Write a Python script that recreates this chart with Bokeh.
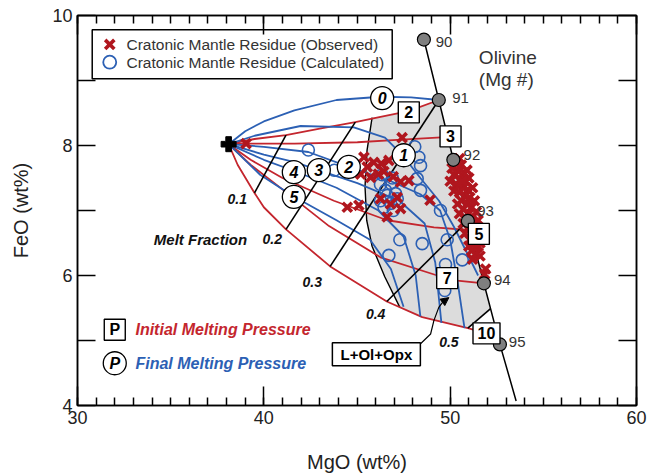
from bokeh.plotting import figure
from bokeh.models import (FixedTicker, LinearAxis, Range1d, CustomJSTickFormatter,
                          Arrow, NormalHead)
from bokeh.core.properties import value
from bokeh.embed import file_html
from bokeh.resources import INLINE

FONT = "Liberation Sans"
RED = "#c4262e"
XRED = "#b0161e"
BLUE = "#2c60b4"
GRAYFILL = "#dcdcdc"
TXT = "#222222"

# ---------------- axes ----------------
mgo_ticks = [30, 40, 50, 60]
mgo_minor = list(range(30, 61))
feo_ticks = [4, 5, 6, 7, 8, 9, 10]
feo_tick_labels = {4: "4", 5: "", 6: "6", 7: "", 8: "8", 9: "", 10: "10"}

# ---------------- starting composition ----------------
start_mgo = [38.11]
start_feo = [8.02]

# ---------------- olivine (Mg #) ----------------
olivine_mg_number = ["90", "91", "92", "93", "94", "95"]
olivine_mgo = [48.59, 49.39, 50.17, 50.95, 51.81, 52.67]
olivine_feo = [9.63, 8.70, 7.78, 6.84, 5.88, 4.94]
olivine_line_mgo = [48.59, 49.39, 50.17, 50.95, 51.81, 52.67, 53.54]
olivine_line_feo = [9.63, 8.70, 7.78, 6.84, 5.88, 4.94, 4.07]
olivine_label_mgo = [49.22, 50.11, 50.72, 51.45, 52.35, 53.15]
olivine_label_feo = [9.59, 8.73, 7.85, 7.00, 5.93, 4.97]

# ---------------- initial melting pressure (red) ----------------
p_initial = ["2", "3", "5", "7", "10"]
p_initial_mgo = [47.78, 50.02, 51.54, 49.84, 51.95]
p_initial_feo = [8.51, 8.14, 6.64, 5.96, 5.11]

red_p2_mgo = [38.11, 39.5, 41.19, 43.0, 44.91, 46.26, 47.77, 49.39]
red_p2_feo = [8.02, 8.10, 8.16, 8.26, 8.36, 8.44, 8.53, 8.70]
red_p3_mgo = [38.11, 39.05, 41.64, 45.02, 47.39, 49.76, 50.02]
red_p3_feo = [8.02, 8.03, 8.03, 8.05, 8.09, 8.13, 8.14]
red_p5_mgo = [38.11, 39.29, 41.0, 43.76, 46.62, 49.13, 51.0, 51.54]
red_p5_feo = [8.02, 7.78, 7.50, 7.15, 6.85, 6.74, 6.70, 6.64]
red_p7_mgo = [38.11, 39.3, 41.07, 43.5, 46.26, 49.31, 50.38, 51.81]
red_p7_feo = [8.02, 7.70, 7.31, 6.76, 6.28, 6.00, 5.92, 5.88]
red_p10_mgo = [38.11, 38.6, 39.5, 40.0, 41.19, 43.56, 46.6, 48.5, 50.95, 51.95]
red_p10_feo = [8.02, 7.70, 7.27, 7.05, 6.71, 6.14, 5.60, 5.36, 5.19, 5.11]

# ---------------- final melting pressure (blue) ----------------
p_final = ["0", "1", "2", "3", "4", "5"]
p_final_mgo = [46.35, 47.51, 44.56, 42.95, 41.61, 41.61]
p_final_feo = [8.73, 7.85, 7.67, 7.62, 7.59, 7.21]

blue_p0_mgo = [38.11, 39.0, 40.0, 41.64, 43.9, 46.26, 47.9, 49.39]
blue_p0_feo = [8.02, 8.22, 8.37, 8.54, 8.70, 8.75, 8.74, 8.70]
blue_p1_mgo = [38.11, 39.5, 41.97, 44.83, 46.5, 47.45, 48.4, 49.4, 50.2, 50.9, 51.5]
blue_p1_feo = [8.02, 8.15, 8.30, 8.28, 8.12, 7.85, 7.50, 7.15, 6.75, 6.35, 6.00]
blue_p2_mgo = [38.11, 40.0, 42.39, 44.57, 46.82, 48.4, 49.46, 50.0, 50.4, 50.77]
blue_p2_feo = [8.02, 7.98, 7.90, 7.67, 7.45, 7.25, 7.00, 6.55, 5.90, 5.19]
blue_p3_mgo = [38.11, 40.0, 41.71, 42.93, 45.02, 47.27, 48.63, 49.2, 49.53]
blue_p3_feo = [8.02, 7.86, 7.74, 7.62, 7.42, 7.15, 6.80, 6.20, 5.27]
blue_p4_mgo = [38.11, 40.0, 41.71, 43.9, 46.15, 47.5, 48.15, 48.4]
blue_p4_feo = [8.02, 7.78, 7.60, 7.35, 7.00, 6.60, 6.00, 5.37]
blue_p5_mgo = [38.11, 39.8, 41.58, 43.9, 45.7, 46.82, 47.5]
blue_p5_feo = [8.02, 7.55, 7.22, 6.85, 6.55, 6.10, 5.52]

# ---------------- melt fraction (black) ----------------
melt_fraction = ["0.1", "0.2", "0.3", "0.4", "0.5"]
mf_lo_mgo = [39.5, 41.19, 43.56, 46.6, 50.95]
mf_lo_feo = [7.27, 6.71, 6.14, 5.60, 5.19]
mf_hi_mgo = [41.19, 44.91, 49.39, 50.95, 52.17]
mf_hi_feo = [8.16, 8.36, 8.70, 6.84, 5.49]
mf_label_mgo = [38.57, 40.45, 42.60, 46.00, 49.93]
mf_label_feo = [7.18, 6.56, 5.90, 5.41, 4.97]

# ---------------- L+Ol+Opx field ----------------
opx_boundary_mgo = [45.81, 45.54, 45.43, 45.52, 45.81, 46.49, 47.3]
opx_boundary_feo = [8.43, 7.93, 7.37, 6.85, 6.45, 5.98, 5.51]
opx_field_mgo = opx_boundary_mgo + [48.5, 50.95, 52.17, 51.81, 50.95, 50.17, 49.39, 47.77, 46.26]
opx_field_feo = opx_boundary_feo + [5.36, 5.19, 5.49, 5.88, 6.84, 7.78, 8.70, 8.53, 8.44]
opx_label_mgo = [46.04]
opx_label_feo = [4.79]
opx_arrow_mgo = [48.41, 48.95, 49.13, 49.39, 49.6]
opx_arrow_feo = [4.95, 5.10, 5.31, 5.51, 5.59]
opx_arrow_tip = (49.93, 5.66)

# ---------------- residues ----------------
obs_mgo = [39.05, 47.42, 45.37, 45.9, 46.3, 46.71, 45.55, 45.2, 45.73, 46.15, 46.44,
           46.94, 47.34, 47.78, 44.48, 45.1, 46.26, 46.8, 47.34, 46.62, 47.16, 48.92,
           50.3, 50.6, 50.45, 50.75, 50.2, 50.55, 50.85, 50.35, 50.7, 50.95, 50.5,
           50.8, 51.05, 50.6, 50.9, 51.15, 50.7, 51.0, 51.2, 50.85, 51.1, 51.3,
           50.95, 51.2, 51.35, 51.05, 51.25, 51.4, 51.15, 51.35, 51.5, 51.9, 51.85,
           50.1, 50.9, 50.0, 51.0, 50.2, 51.2, 50.4, 51.3, 50.5, 51.4, 50.7, 51.5,
           50.8, 51.55, 51.0, 51.6, 51.2, 51.6, 51.4, 50.65, 50.25, 50.5]
obs_feo = [8.03, 8.12, 7.82, 7.74, 7.72, 7.77, 7.67, 7.56, 7.51, 7.56, 7.60,
           7.52, 7.44, 7.46, 7.05, 7.08, 7.18, 7.10, 7.03, 6.90, 7.20, 7.16,
           7.72, 7.70, 7.60, 7.58, 7.55, 7.48, 7.45, 7.40, 7.35, 7.32, 7.28,
           7.22, 7.20, 7.15, 7.10, 7.05, 7.02, 6.95, 6.90, 6.88, 6.80, 6.75,
           6.72, 6.65, 6.58, 6.55, 6.48, 6.42, 6.38, 6.33, 6.45, 6.10, 6.02,
           7.65, 7.62, 7.45, 7.50, 7.30, 7.35, 7.10, 7.15, 6.95, 6.98, 6.80, 6.85,
           6.65, 6.62, 6.45, 6.50, 6.25, 6.30, 6.55, 7.45, 7.75, 7.80]
calc_mgo = [42.39, 43.78, 48.10, 48.32, 48.41, 48.23, 48.41, 49.48, 47.30, 48.50,
            49.84, 46.71, 50.65, 49.71, 49.75, 46.35, 46.26, 46.80, 46.53, 47.07,
            46.26, 46.80, 47.16, 46.62, 46.45, 46.95, 46.90]
calc_feo = [7.93, 7.62, 7.98, 7.82, 7.69, 7.49, 7.31, 7.00, 6.55, 6.49,
            6.55, 6.31, 6.24, 5.77, 6.17, 7.55, 7.40, 7.42, 7.31, 7.26,
            7.15, 7.11, 7.18, 7.23, 7.05, 7.00, 7.50]

# ---------------- legends / notes ----------------
legend_box = (30.79, 46.89, 9.78, 9.026)   # left, right, top, bottom
legend_marker_mgo = [31.73]
legend_obs_feo = [9.554]
legend_calc_feo = [9.282]
legend_text_mgo = [32.63]
legend_labels = ["Cratonic Mantle Residue (Observed)", "Cratonic Mantle Residue (Calculated)"]

key_symbol_mgo = [32.0]
key_box_feo = [5.165]
key_circle_feo = [4.65]
key_text_mgo = [33.11]

# ---------------- figure ----------------
p = figure(width=658, height=476, x_range=Range1d(30, 60), y_range=Range1d(4, 10),
           output_backend="svg", toolbar_location=None,
           min_border_left=77, min_border_right=22, min_border_top=15, min_border_bottom=71)
p.grid.visible = False
p.outline_line_color = "black"
p.outline_line_width = 1.5
p.background_fill_color = "white"
p.border_fill_color = "white"


def style_axis(ax, ticker, major_in, minor_in):
    ax.ticker = ticker
    ax.major_tick_in = major_in
    ax.major_tick_out = 0
    ax.minor_tick_in = minor_in
    ax.minor_tick_out = 0
    ax.major_tick_line_width = 1.5
    ax.minor_tick_line_width = 1.5
    ax.major_tick_line_color = "black"
    ax.minor_tick_line_color = "black"
    ax.axis_line_width = 1.5
    ax.axis_line_color = "black"
    ax.major_label_text_font = FONT
    ax.major_label_text_font_size = "18px"
    ax.major_label_text_color = TXT


style_axis(p.xaxis[0], FixedTicker(ticks=mgo_ticks, minor_ticks=mgo_minor), 19, 8)
style_axis(p.yaxis[0], FixedTicker(ticks=feo_ticks, minor_ticks=[]), 18, 0)
p.yaxis[0].major_label_overrides = feo_tick_labels
for ax, lab in ((p.xaxis[0], "MgO (wt%)"), (p.yaxis[0], "FeO (wt%)")):
    ax.axis_label = lab
    ax.axis_label_text_font = FONT
    ax.axis_label_text_font_size = "20px"
    ax.axis_label_text_font_style = "normal"
    ax.axis_label_text_color = TXT
p.xaxis[0].axis_label_standoff = 24
p.yaxis[0].axis_label_standoff = 17

top = LinearAxis()
style_axis(top, FixedTicker(ticks=mgo_ticks, minor_ticks=mgo_minor), 19, 8)
top.formatter = CustomJSTickFormatter(code="return ''")
p.add_layout(top, "above")
right = LinearAxis()
style_axis(right, FixedTicker(ticks=feo_ticks, minor_ticks=[]), 18, 0)
right.formatter = CustomJSTickFormatter(code="return ''")
p.add_layout(right, "right")

# L+Ol+Opx field
p.patch(opx_field_mgo, opx_field_feo, fill_color=GRAYFILL, line_color=None)
p.line(opx_boundary_mgo, opx_boundary_feo, line_color="black", line_width=1.4)

# curves
for xs, ys in ((red_p2_mgo, red_p2_feo), (red_p3_mgo, red_p3_feo), (red_p5_mgo, red_p5_feo),
               (red_p7_mgo, red_p7_feo), (red_p10_mgo, red_p10_feo)):
    p.line(xs, ys, line_color=RED, line_width=1.8)
for xs, ys in ((blue_p0_mgo, blue_p0_feo), (blue_p1_mgo, blue_p1_feo), (blue_p2_mgo, blue_p2_feo),
               (blue_p3_mgo, blue_p3_feo), (blue_p4_mgo, blue_p4_feo), (blue_p5_mgo, blue_p5_feo)):
    p.line(xs, ys, line_color=BLUE, line_width=1.8)
p.segment(mf_lo_mgo, mf_lo_feo, mf_hi_mgo, mf_hi_feo, line_color="black", line_width=1.6)

# olivine
p.line(olivine_line_mgo, olivine_line_feo, line_color="black", line_width=1.5)

# residues
p.scatter(calc_mgo, calc_feo, marker="circle", size=12, fill_color=None,
          line_color=BLUE, line_width=1.6)
p.scatter(obs_mgo, obs_feo, marker="x", size=13, line_color=XRED, line_width=3.6)

p.scatter(olivine_mgo, olivine_feo, marker="circle", size=13, fill_color="#7f7f7f",
          line_color="black", line_width=1.2)
p.scatter(start_mgo, start_feo, marker="plus", size=15, fill_color="black", line_color="black")

# olivine labels
p.text(olivine_label_mgo, olivine_label_feo, text=olivine_mg_number, text_font=value(FONT),
       text_font_size=value("15px"), text_color="#333333", text_align="left",
       text_baseline="middle")
p.text([51.54, 51.54], [9.36, 9.01], text=["Olivine", "(Mg #)"], text_font=value(FONT),
       text_font_size=value("19px"), text_color="#333333", text_align="left",
       text_baseline="middle")

# melt fraction labels
p.text(mf_label_mgo, mf_label_feo, text=melt_fraction, text_font=value(FONT),
       text_font_size=value("14px"), text_font_style="bold italic", text_color="#111111",
       text_align="center", text_baseline="middle")
p.text([36.60], [6.55], text=["Melt Fraction"], text_font=value(FONT),
       text_font_size=value("15px"), text_font_style="bold italic", text_color="#111111",
       text_align="center", text_baseline="middle")

# pressure labels
p.rect(p_initial_mgo[:4], p_initial_feo[:4], width=21, height=21, width_units="screen",
       height_units="screen", fill_color="white", line_color="black", line_width=1.4)
p.rect(p_initial_mgo[4:], p_initial_feo[4:], width=27, height=21, width_units="screen",
       height_units="screen", fill_color="white", line_color="black", line_width=1.4)
p.text(p_initial_mgo, p_initial_feo, text=p_initial, text_font=value(FONT),
       text_font_size=value("16px"), text_font_style="bold", text_color="black",
       text_align="center", text_baseline="middle")
p.scatter(p_final_mgo, p_final_feo, marker="circle", size=23, fill_color="white",
          line_color="black", line_width=1.3)
p.text(p_final_mgo, p_final_feo, text=p_final, text_font=value(FONT),
       text_font_size=value("16px"), text_font_style="bold italic", text_color="black",
       text_align="center", text_baseline="middle")

# L+Ol+Opx label and arrow
p.line(opx_arrow_mgo, opx_arrow_feo, line_color="black", line_width=1.2)
p.add_layout(Arrow(end=NormalHead(size=8, fill_color="black", line_color="black"),
                   x_start=opx_arrow_mgo[-1], y_start=opx_arrow_feo[-1],
                   x_end=opx_arrow_tip[0], y_end=opx_arrow_tip[1],
                   line_color="black", line_width=1.2))
p.rect(opx_label_mgo, opx_label_feo, width=88, height=23, width_units="screen",
       height_units="screen", fill_color="white", line_color="black", line_width=1.5)
p.text(opx_label_mgo, opx_label_feo, text=["L+Ol+Opx"], text_font=value(FONT),
       text_font_size=value("15px"), text_font_style="bold", text_color="black",
       text_align="center", text_baseline="middle")

# key (bottom left)
p.rect(key_symbol_mgo, key_box_feo, width=21, height=21, width_units="screen",
       height_units="screen", fill_color="white", line_color="black", line_width=1.4)
p.text(key_symbol_mgo, key_box_feo, text=["P"], text_font=value(FONT),
       text_font_size=value("16px"), text_font_style="bold", text_color="black",
       text_align="center", text_baseline="middle")
p.scatter(key_symbol_mgo, key_circle_feo, marker="circle", size=23, fill_color="white",
          line_color="black", line_width=1.3)
p.text(key_symbol_mgo, key_circle_feo, text=["P"], text_font=value(FONT),
       text_font_size=value("16px"), text_font_style="bold italic", text_color="black",
       text_align="center", text_baseline="middle")
p.text(key_text_mgo, key_box_feo, text=["Initial Melting Pressure"], text_font=value(FONT),
       text_font_size=value("16px"), text_font_style="bold italic", text_color=RED,
       text_align="left", text_baseline="middle")
p.text(key_text_mgo, key_circle_feo, text=["Final Melting Pressure"], text_font=value(FONT),
       text_font_size=value("16px"), text_font_style="bold italic", text_color=BLUE,
       text_align="left", text_baseline="middle")

# legend (top left)
p.quad(left=[legend_box[0]], right=[legend_box[1]], top=[legend_box[2]], bottom=[legend_box[3]],
       fill_color="white", line_color="black", line_width=1.5)
p.scatter(legend_marker_mgo, legend_obs_feo, marker="x", size=13, line_color=XRED, line_width=3.6)
p.scatter(legend_marker_mgo, legend_calc_feo, marker="circle", size=13, fill_color=None,
          line_color=BLUE, line_width=1.8)
p.text(legend_text_mgo * 2, legend_obs_feo + legend_calc_feo, text=legend_labels,
       text_font=value(FONT), text_font_size=value("15.5px"), text_color="#333333",
       text_align="left", text_baseline="middle")

open("out.html", "w").write(file_html(p, INLINE))
